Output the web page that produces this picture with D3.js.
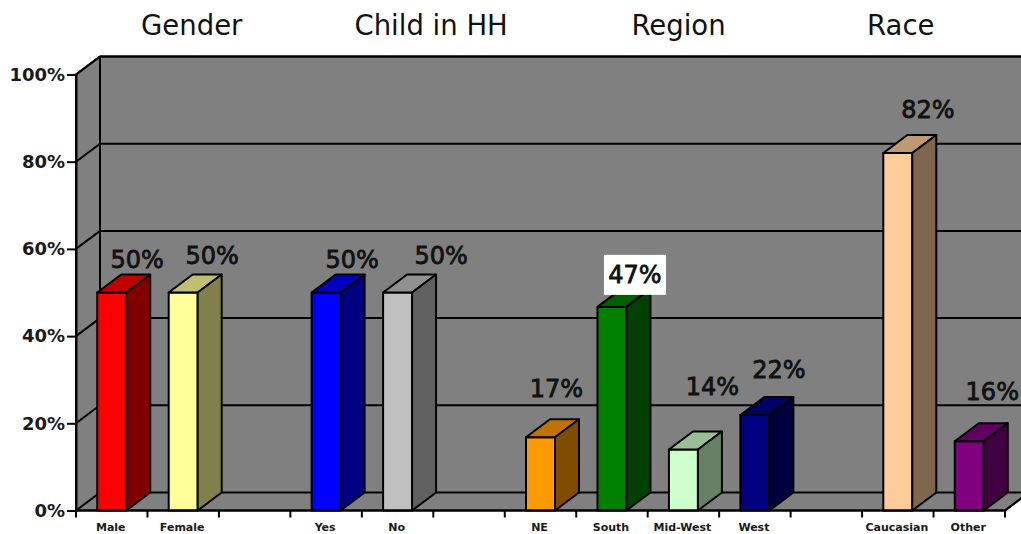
<!DOCTYPE html>
<html><head><meta charset="utf-8">
<style>html,body{margin:0;padding:0;background:#fff;overflow:hidden}svg{display:block}</style>
<script src="https://cdn.jsdelivr.net/npm/d3@7"></script></head>
<body><svg id="c" width="1021" height="534"></svg>
<script>
const categories = ["Male","Female","","Yes","No"," ","NE","South","Mid-West","West","  ","Caucasian","Other"];
const values = [50,50,null,50,50,null,16.8,46.7,14,21.9,null,82,15.9];
const labels = ["50%","50%",null,"50%","50%",null,"17%","47%","14%","22%",null,"82%","16%"];
const colors = ["#ff0000","#ffff99",null,"#0000ff","#c0c0c0",null,"#ff9900","#008000","#ccffcc","#000080",null,"#ffcc99","#800080"];
const labelDx = [25.5,29,0,26,43.5,0,16,23,29,24,0,30,23];
const labelDy = [-25,-29,0,-25,-29,0,-40,-24,-54,-37,0,-35,-41];
const groupTitles = ["Gender","Child in HH","Region","Race"];
const titleCategory = ["Male","Yes","NE","Caucasian"];
const titleDx = [80,105,138,3];
const yTicks = [0,20,40,60,80,100];

const svg = d3.select("#c");
const depthX = 24, depthY = -18;
const x = d3.scaleBand().domain(categories).range([76,1005]);
const y = d3.scaleLinear().domain([0,100]).range([510.5,74.5]);
const barW = 29;
const line = (a,b,c,d,g)=>g.append("line").attr("x1",a).attr("y1",b).attr("x2",c).attr("y2",d).attr("stroke","#000").attr("stroke-width",2);
const poly = (pts)=>pts.map(p=>p.join(",")).join(" ");

const x0=x.range()[0], x1=x.range()[1];
const wall = svg.append("g");
wall.append("polygon").attr("fill","#808080").attr("stroke","#000").attr("stroke-width",2)
  .attr("points",poly([[x0,y(0)],[x0,y(100)],[x0+depthX,y(100)+depthY],[x1+depthX,y(100)+depthY],[x1+depthX,y(0)+depthY],[x1,y(0)]]));
yTicks.forEach(t=>{
  line(x0,y(t),x0+depthX,y(t)+depthY,wall);
  line(x0+depthX,y(t)+depthY,x1+depthX,y(t)+depthY,wall);
});
line(x0+depthX,y(0)+depthY,x0+depthX,y(100)+depthY,wall);

const idx = categories.map((_,i)=>i).filter(i=>values[i]!==null);
const bars = svg.selectAll("g.bar").data(idx).join("g").attr("class","bar")
  .attr("stroke","#000").attr("stroke-width",2).attr("stroke-linejoin","round");
const bx = i=>x(categories[i])+(x.bandwidth()-barW)/2;
bars.append("polygon").attr("fill",i=>colors[i]).attr("points",i=>poly([[bx(i),y(0)],[bx(i),y(values[i])],[bx(i)+barW,y(values[i])],[bx(i)+barW,y(0)]]));
bars.append("polygon").attr("fill",i=>{const c=d3.rgb(colors[i]);return d3.rgb(c.r*.75,c.g*.75,c.b*.75)})
  .attr("points",i=>poly([[bx(i),y(values[i])],[bx(i)+depthX,y(values[i])+depthY],[bx(i)+barW+depthX,y(values[i])+depthY],[bx(i)+barW,y(values[i])]]));
bars.append("polygon").attr("fill",i=>{const c=d3.rgb(colors[i]);return d3.rgb(c.r*.5,c.g*.5,c.b*.5)})
  .attr("points",i=>poly([[bx(i)+barW,y(0)],[bx(i)+barW,y(values[i])],[bx(i)+barW+depthX,y(values[i])+depthY],[bx(i)+barW+depthX,y(0)+depthY]]));

// axes
const yAxis = d3.axisLeft(y).tickValues(yTicks).tickFormat(d=>d+"%").tickSize(9).tickPadding(2);
const yG = svg.append("g").attr("transform",`translate(${x0},0)`).call(yAxis);
yG.select(".domain").attr("stroke","#000").attr("stroke-width",2);
yG.selectAll(".tick line").attr("stroke","#000").attr("stroke-width",2);
yG.selectAll("text").attr("font-family","'DejaVu Sans'").attr("font-weight","bold").attr("font-size",18).attr("fill","#1a1a1a");

const xAxis = d3.axisBottom(x).tickSize(0).tickPadding(10).tickFormat(d=>d.trim());
const xG = svg.append("g").attr("transform",`translate(-1,${y(0)})`).call(xAxis);
xG.select(".domain").remove();
xG.selectAll("text").attr("font-family","'DejaVu Sans'").attr("font-weight","bold").attr("font-size",11).attr("fill","#1a1a1a").attr("dy","0.95em");
line(x0,y(0),x1,y(0),svg);
line(x1,y(0),x1+depthX,y(0)+depthY,svg);
svg.selectAll("line.xt").data(d3.range(categories.length+1)).join("line").attr("class","xt")
  .attr("x1",i=>x0+i*x.step()).attr("x2",i=>x0+i*x.step()).attr("y1",y(0)).attr("y2",y(0)+7)
  .attr("stroke","#000").attr("stroke-width",2);

// data labels
const lab = svg.selectAll("g.lab").data(idx).join("g").attr("class","lab")
  .attr("transform",i=>`translate(${bx(i)+barW/2+labelDx[i]},${y(values[i])+labelDy[i]})`);
lab.filter(i=>categories[i]==="South").append("rect").attr("x",-31).attr("y",-28).attr("width",62).attr("height",40).attr("fill","#fff");
lab.append("text").text(i=>labels[i]).attr("text-anchor","middle")
  .attr("font-family","'DejaVu Sans'").attr("font-size",24).attr("fill","#111")
  .attr("stroke","#111").attr("stroke-width",0.8);

// titles
svg.selectAll("text.title").data(groupTitles).join("text").attr("class","title")
  .attr("x",(d,i)=>x(titleCategory[i])+x.bandwidth()/2+titleDx[i]).attr("y",35)
  .attr("text-anchor","middle").attr("font-family","'DejaVu Sans'").attr("font-size",27.5).attr("fill","#111").text(d=>d);
</script></body></html>
